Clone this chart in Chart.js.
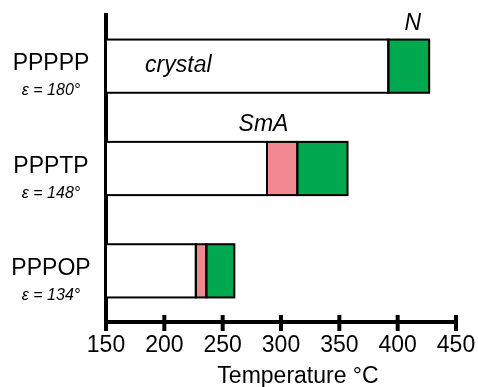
<!DOCTYPE html>
<html>
<head>
<meta charset="utf-8">
<script src="https://cdn.jsdelivr.net/npm/chart.js@4"></script>
<style>
  html, body { margin: 0; padding: 0; background: #fff; }
  #wrap { width: 478px; height: 387px; }
</style>
</head>
<body>
<div id="wrap"><canvas id="phaseChart"></canvas></div>
<script>
var categories = ["PPPPP", "PPPTP", "PPPOP"];
var angles = ["ε = 180°", "ε = 148°", "ε = 134°"];
var startTemp = 150;
var meltTemps = [392, 288, 227];      // crystal -> SmA (or N)
var smaTemps = [null, 314, 236];      // SmA -> N
var clearTemps = [427, 357, 260];     // N -> isotropic
var xTicks = [150, 200, 250, 300, 350, 400, 450];

var crystalData = categories.map((c, i) => [startTemp, meltTemps[i]]);
var smaData = categories.map((c, i) => smaTemps[i] == null ? null : [meltTemps[i], smaTemps[i]]);
var nData = categories.map((c, i) => [smaTemps[i] == null ? meltTemps[i] : smaTemps[i], clearTemps[i]]);

var FONT = "'Liberation Sans', Arial, Helvetica, sans-serif";

// bar outlines drawn on the edges so neighbouring bars share one line
var outlines = {
  id: "outlines",
  afterDatasetsDraw(chart) {
    var ctx = chart.ctx;
    ctx.save();
    ctx.strokeStyle = "#000";
    ctx.lineWidth = 2;
    chart.data.datasets.forEach((ds, d) => {
      chart.getDatasetMeta(d).data.forEach((el, i) => {
        if (ds.data[i] == null) return;
        var h = el.height;
        ctx.strokeRect(el.base, el.y - h / 2, el.x - el.base, h);
      });
    });
    ctx.restore();
  }
};

// category names, angles, phase names, tick marks, axis title
var decorations = {
  id: "decorations",
  afterDraw(chart) {
    var ctx = chart.ctx;
    var x = chart.scales.x, y = chart.scales.y;
    var area = chart.chartArea;
    ctx.save();
    ctx.fillStyle = "#000";
    ctx.textAlign = "center";
    categories.forEach((c, i) => {
      var py = y.getPixelForValue(i);
      ctx.font = "23px " + FONT;
      ctx.fillText(c, 51, py + 4);
      ctx.font = "italic 16px " + FONT;
      ctx.fillText(angles[i], 51, py + 29);
    });

    ctx.font = "italic 23px " + FONT;
    ctx.fillText("crystal", x.getPixelForValue(212), y.getPixelForValue(0) + 6);
    ctx.fillText("N", x.getPixelForValue(413), y.getPixelForValue(0) - 36);
    ctx.fillText("SmA", x.getPixelForValue(285), y.getPixelForValue(1) - 38);

    ctx.strokeStyle = "#000";
    ctx.lineWidth = 4;
    xTicks.forEach(v => {
      var px = x.getPixelForValue(v);
      ctx.beginPath();
      ctx.moveTo(px, area.bottom - 7);
      ctx.lineTo(px, area.bottom + 9);
      ctx.stroke();
    });
    ctx.beginPath();
    ctx.moveTo(area.left, area.bottom);
    ctx.lineTo(area.left, area.bottom + 6);
    ctx.stroke();

    ctx.font = "23px " + FONT;
    ctx.fillText("Temperature °C", 298, 383);
    ctx.restore();
  }
};

new Chart("phaseChart", {
  type: "bar",
  data: {
    labels: categories,
    datasets: [
      { label: "crystal", data: crystalData, backgroundColor: "#ffffff" },
      { label: "SmA", data: smaData, backgroundColor: "#f2888f" },
      { label: "N", data: nData, backgroundColor: "#00a94f" }
    ]
  },
  options: {
    indexAxis: "y",
    responsive: true,
    maintainAspectRatio: false,
    animation: false,
    datasets: {
      bar: {
        borderWidth: 0,
        barPercentage: 0.52,
        categoryPercentage: 1
      }
    },
    layout: { padding: { top: 15, right: 22, left: 0, bottom: 0 } },
    plugins: { legend: { display: false }, tooltip: { enabled: false } },
    scales: {
      y: {
        stacked: true,
        ticks: { display: false },
        grid: { display: false },
        border: { display: true, color: "#000", width: 4 },
        afterFit(scale) { scale.width = 106; }
      },
      x: {
        min: 150,
        max: 450,
        ticks: { stepSize: 50, color: "#000", font: { size: 23, family: FONT }, padding: 10 },
        grid: { display: false, drawTicks: false },
        border: { display: true, color: "#000", width: 4 },
        afterFit(scale) {
          scale.height = 65;
          scale.paddingLeft = 0;
          scale.paddingRight = 0;
        }
      }
    }
  },
  plugins: [outlines, decorations]
});
</script>
</body>
</html>
